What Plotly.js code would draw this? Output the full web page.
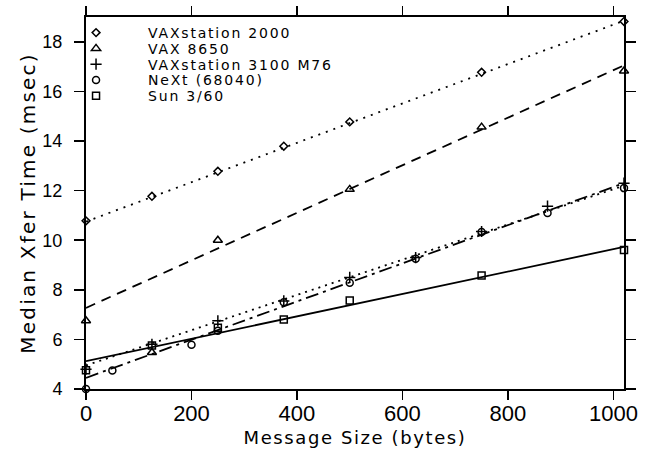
<!DOCTYPE html>
<html>
<head>
<meta charset="utf-8">
<script src="https://cdn.plot.ly/plotly-3.0.1.min.js"></script>
<style>
  html, body { margin: 0; padding: 0; background: #fff; }
  #chart { width: 647px; height: 449px; }
  .ytitle { letter-spacing: 2.2px; }
  .xtitle { letter-spacing: 1.6px; }
  .legendtext { letter-spacing: 1.8px; }
</style>
</head>
<body>
<div id="chart"></div>
<script>
// ---- data ----
const seriesNames = ["VAXstation 2000", "VAX 8650", "VAXstation 3100 M76", "NeXt (68040)", "Sun 3/60"];

const vax2000X = [0, 125, 250, 375, 500, 750, 1020];
const vax2000Y = [10.78, 11.77, 12.78, 13.79, 14.77, 16.77, 18.82];

const vax8650X = [0, 125, 250, 500, 750, 1020];
const vax8650Y = [6.75, 5.47, 10.0, 12.05, 14.56, 16.82];

const v3100X = [0, 125, 250, 375, 500, 625, 750, 875, 1020];
const v3100Y = [4.8, 5.8, 6.75, 7.55, 8.5, 9.3, 10.35, 11.37, 12.3];

const nextX = [0, 50, 200, 250, 375, 500, 625, 750, 875, 1020];
const nextY = [4.0, 4.75, 5.78, 6.35, 7.5, 8.28, 9.25, 10.33, 11.1, 12.1];

const sunX = [0, 125, 250, 375, 500, 750, 1020];
const sunY = [4.76, 5.75, 6.47, 6.8, 7.57, 8.58, 9.6];

// fitted lines (end values)
const fitX = [0, 1020];
const vax2000Fit = [10.75, 18.85];
const vax8650Fit = [7.27, 17.05];
const v3100Fit = [4.45, 12.3];
const nextFit = [4.95, 12.2];
const sunFit = [5.12, 9.73];

const xTicks = [0, 200, 400, 600, 800, 1000];
const yTicks = [4, 6, 8, 10, 12, 14, 16, 18];

// ---- traces ----
const black = "#000";
function pts(x, y, name, symbol, size) {
  return { x: x, y: y, name: name, type: "scatter", mode: "markers",
    marker: { symbol: symbol, size: size, color: black, line: { color: black, width: 1.5 } },
    hoverinfo: "x+y", cliponaxis: false };
}
function fit(y, dash) {
  return { x: fitX, y: y, type: "scatter", mode: "lines", showlegend: false,
    line: { color: black, width: 1.8, dash: dash }, hoverinfo: "skip" };
}

const traces = [
  fit(vax2000Fit, "2px,6px"),
  fit(vax8650Fit, "10px,7px"),
  fit(v3100Fit, "13px,5px,3px,5px"),
  fit(nextFit, "2px,5px"),
  fit(sunFit, "solid"),
  pts(vax2000X, vax2000Y, seriesNames[0], "diamond-open", 6),
  pts(vax8650X, vax8650Y, seriesNames[1], "triangle-up-open", 8),
  pts(v3100X, v3100Y, seriesNames[2], "cross-thin-open", 8),
  pts(nextX, nextY, seriesNames[3], "circle-open", 7),
  pts(sunX, sunY, seriesNames[4], "square-open", 7)
];

const axisCommon = {
  showgrid: false, zeroline: false, showline: true, linecolor: black, linewidth: 2,
  mirror: "ticks", ticks: "outside", tickcolor: black, tickwidth: 1.5
};

const layout = {
  width: 647, height: 449,
  margin: { l: 86, r: 23, t: 17, b: 60 },
  paper_bgcolor: "#fff", plot_bgcolor: "#fff",
  font: { family: "Liberation Sans, sans-serif", color: black },
  showlegend: true,
  legend: {
    x: -0.078, xanchor: "left", y: 1, yanchor: "top",
    bgcolor: "rgba(0,0,0,0)", borderwidth: 0, itemwidth: 94,
    font: { family: "DejaVu Sans", size: 14, color: black },
    traceorder: "normal"
  },
  xaxis: Object.assign({}, axisCommon, {
    range: [0, 1020], tickvals: xTicks, ticktext: xTicks.map(String), ticklen: 9,
    ticklabelstandoff: -5,
    tickfont: { family: "Liberation Sans", size: 22, color: black },
    title: { text: "Message Size (bytes)", font: { family: "DejaVu Sans", size: 18, color: black }, standoff: 6 }
  }),
  yaxis: Object.assign({}, axisCommon, {
    range: [4, 19], tickvals: yTicks, ticktext: yTicks.map(String), ticklen: 10,
    ticklabelstandoff: 8,
    tickfont: { family: "Liberation Sans", size: 18, color: black },
    title: { text: "Median Xfer Time (msec)", font: { family: "DejaVu Sans", size: 20, color: black }, standoff: 1 }
  })
};

Plotly.newPlot("chart", traces, layout, { staticPlot: true, displayModeBar: false }).then(function () {
  // tighten legend row spacing to match the reference
  const items = document.querySelectorAll(".legend .traces");
  const first = items.length ? items[0].getAttribute("transform") : null;
  if (first) {
    const m = /translate\(([-\d.]+),\s*([-\d.]+)\)/.exec(first);
    if (m) {
      const x0 = parseFloat(m[1]), y0 = parseFloat(m[2]);
      items.forEach(function (el, i) {
        el.setAttribute("transform", "translate(" + x0 + "," + (y0 + i * 15.8) + ")");
      });
    }
  }
});
</script>
</body>
</html>
